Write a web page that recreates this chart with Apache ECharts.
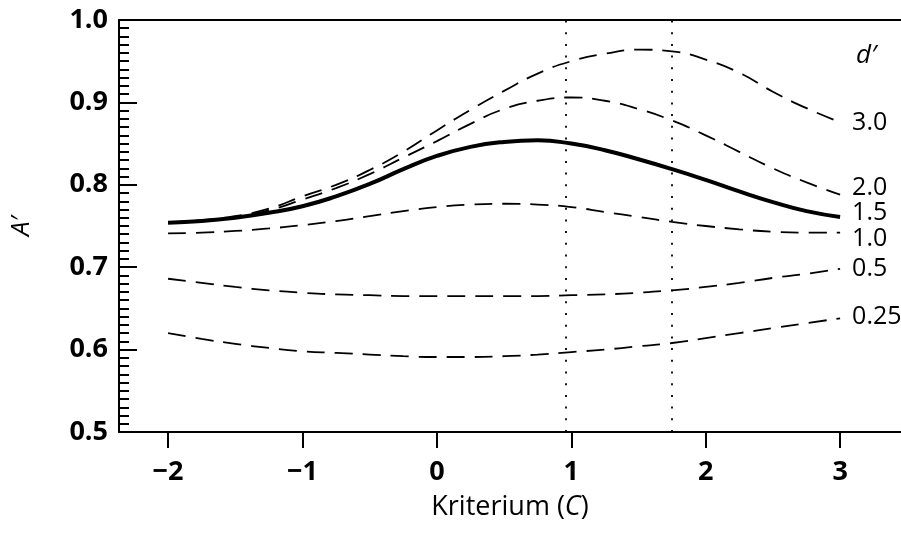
<!DOCTYPE html>
<html>
<head>
<meta charset="utf-8">
<script src="https://cdn.jsdelivr.net/npm/echarts@6/dist/echarts.min.js"></script>
<style>
  html, body { margin: 0; padding: 0; background: #fff; }
  #chart { width: 901px; height: 547px; }
</style>
</head>
<body>
<div id="chart"></div>
<script>
// Criterion values (C) at which A' is sampled
const criterion = [-2, -1.75, -1.5, -1.25, -1, -0.75, -0.5, -0.25, 0, 0.25, 0.5,
                   0.75, 1, 1.25, 1.5, 1.75, 2, 2.25, 2.5, 2.75, 3];

// A' for each sensitivity d'
const aPrime_d300 = [0.755, 0.757, 0.762, 0.771, 0.786, 0.800, 0.818, 0.840, 0.866, 0.891, 0.914,
                     0.935, 0.950, 0.959, 0.964, 0.962, 0.952, 0.936, 0.913, 0.893, 0.876];
const aPrime_d200 = [0.754, 0.756, 0.761, 0.769, 0.782, 0.796, 0.813, 0.833, 0.853, 0.874, 0.892,
                     0.902, 0.906, 0.902, 0.892, 0.878, 0.860, 0.840, 0.820, 0.803, 0.788];
const aPrime_d150 = [0.754, 0.756, 0.760, 0.766, 0.774, 0.786, 0.801, 0.819, 0.835, 0.846, 0.852,
                     0.854, 0.850, 0.842, 0.831, 0.819, 0.806, 0.792, 0.779, 0.768, 0.761];
const aPrime_d100 = [0.741, 0.742, 0.744, 0.747, 0.751, 0.756, 0.762, 0.768, 0.773, 0.776, 0.777,
                     0.776, 0.773, 0.767, 0.761, 0.755, 0.750, 0.746, 0.743, 0.742, 0.742];
const aPrime_d050 = [0.686, 0.681, 0.676, 0.672, 0.669, 0.667, 0.666, 0.665, 0.665, 0.665, 0.665,
                     0.665, 0.666, 0.667, 0.669, 0.672, 0.676, 0.681, 0.687, 0.692, 0.698];
const aPrime_d025 = [0.620, 0.613, 0.607, 0.602, 0.598, 0.596, 0.594, 0.592, 0.591, 0.591, 0.592,
                     0.594, 0.597, 0.600, 0.604, 0.608, 0.614, 0.620, 0.626, 0.632, 0.638];

// Curve labels (d') shown at the right end of each curve
const dPrimeLabels = ['3.0', '2.0', '1.5', '1.0', '0.5', '0.25'];

// Axis ticks
const xTicks = [-2, -1, 0, 1, 2, 3];
const yTicks = ['0.5', '0.6', '0.7', '0.8', '0.9', '1.0'];

// Reference criteria marked with dotted verticals
const refCriteria = [0.96, 1.75];

const FONT = '"Open Sans", "Noto Sans", sans-serif';
const X_MIN = -2.365, X_MAX = 3.453;

const curves = [aPrime_d300, aPrime_d200, aPrime_d150, aPrime_d100, aPrime_d050, aPrime_d025];
const labelShift = [1, -7, -4, 6, 0, -1];

const series = curves.map((vals, i) => {
  const solid = dPrimeLabels[i] === '1.5';
  return {
    name: dPrimeLabels[i],
    type: 'line',
    smooth: true,
    symbol: 'none',
    silent: true,
    data: vals.map((v, k) => [criterion[k], v]),
    lineStyle: {
      color: '#000',
      width: solid ? 4 : 1.8,
      type: solid ? 'solid' : [18, 10]
    },
    endLabel: {
      show: true,
      formatter: '{a}',
      distance: 12,
      offset: [0, labelShift[i]],
      color: '#000',
      fontFamily: FONT,
      fontSize: 25
    },
    z: solid ? 3 : 2
  };
});

series[0].markLine = {
  symbol: 'none',
  silent: true,
  label: { show: false },
  lineStyle: { color: '#000', width: 1.8, type: [2, 9.7] },
  data: refCriteria.map(c => ({ xAxis: c }))
};

const chart = echarts.init(document.getElementById('chart'), null, { renderer: 'canvas' });
chart.setOption({
  backgroundColor: '#fff',
  animation: false,
  grid: { left: 119, right: 0, top: 20, bottom: 115, containLabel: false },
  xAxis: [
    {
      type: 'value',
      min: X_MIN,
      max: X_MAX,
      position: 'bottom',
      axisLine: { show: true, onZero: false, lineStyle: { color: '#000', width: 2 } },
      axisTick: { show: true, inside: false, length: 16, customValues: xTicks, lineStyle: { color: '#000', width: 2 } },
      axisLabel: {
        show: true,
        customValues: xTicks,
        margin: 27,
        color: '#000',
        fontFamily: FONT,
        fontWeight: 'bold',
        fontSize: 27,
        formatter: v => (v < 0 ? '\u2212' + Math.abs(v) : String(v))
      },
      splitLine: { show: false },
      name: 'Kriterium ({it|C})',
      nameLocation: 'middle',
      nameGap: 62,
      nameTextStyle: {
        color: '#000',
        fontFamily: FONT,
        fontSize: 27,
        rich: { it: { fontStyle: 'italic', fontFamily: FONT, fontSize: 27, color: '#000' } }
      }
    },
    {
      type: 'value',
      min: X_MIN,
      max: X_MAX,
      position: 'top',
      axisLine: { show: true, onZero: false, lineStyle: { color: '#000', width: 2 } },
      axisTick: { show: false },
      axisLabel: { show: false },
      splitLine: { show: false }
    }
  ],
  yAxis: {
    type: 'value',
    min: 0.5,
    max: 1.0,
    interval: 0.1,
    axisLine: { show: true, onZero: false, lineStyle: { color: '#000', width: 2 } },
    axisTick: { show: true, inside: true, length: 18, lineStyle: { color: '#000', width: 2 } },
    minorTick: { show: true, splitNumber: 10, length: 10, lineStyle: { color: '#000', width: 2 } },
    minorSplitLine: { show: false },
    splitLine: { show: false },
    axisLabel: {
      margin: 11,
      color: '#000',
      fontFamily: FONT,
      fontWeight: 'bold',
      fontSize: 27,
      formatter: v => yTicks[Math.round((v - 0.5) * 10)]
    },
    name: 'A\u2032',
    nameLocation: 'middle',
    nameRotate: 90,
    nameGap: 84,
    nameTextStyle: { color: '#000', fontFamily: FONT, fontStyle: 'italic', fontSize: 26 }
  },
  graphic: [
    {
      type: 'text',
      left: 856,
      top: 43,
      style: { text: 'd\u2032', fill: '#000', font: 'italic 26px ' + FONT }
    }
  ],
  series: series
});
</script>
</body>
</html>
